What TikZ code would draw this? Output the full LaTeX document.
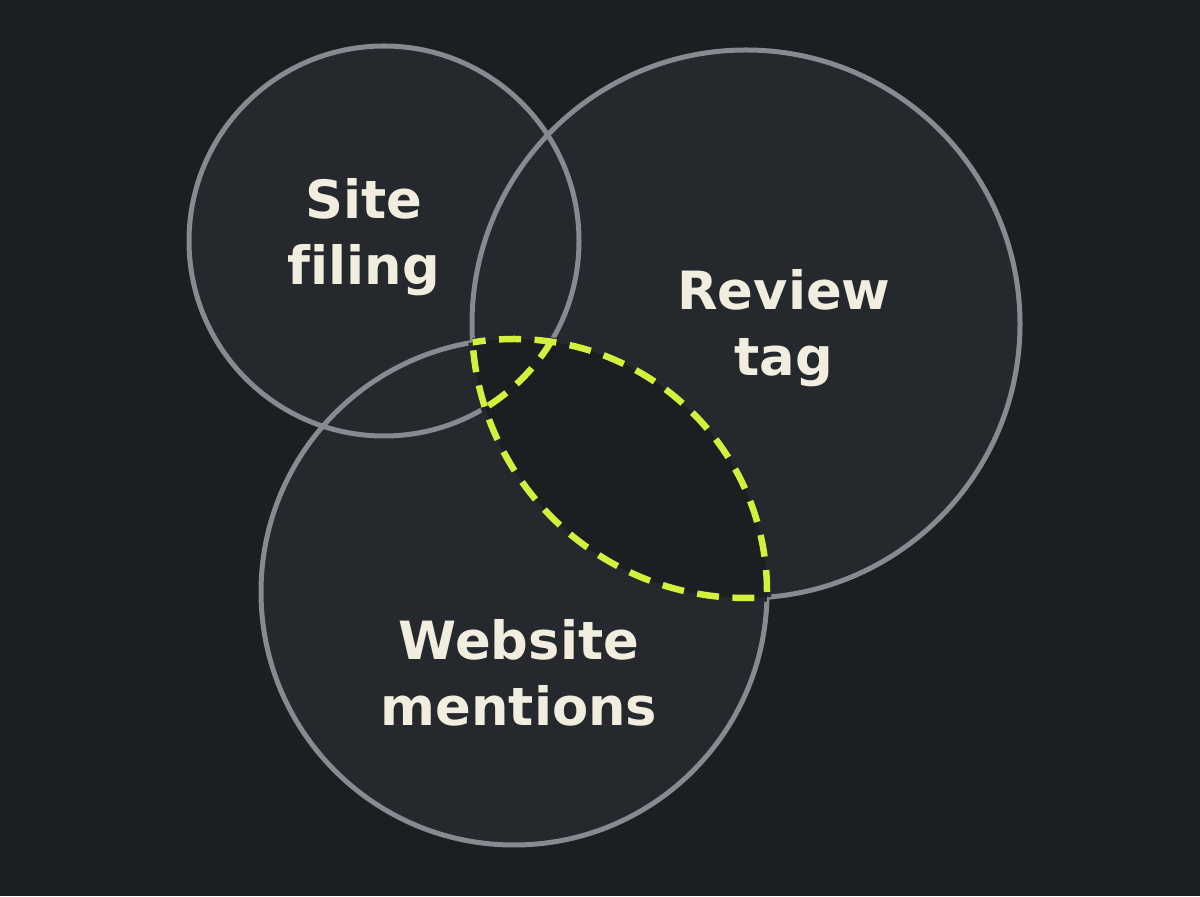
\documentclass[tikz,border=0pt]{standalone}
\usepackage{fontspec}
\setsansfont[Ligatures=NoCommon]{DejaVu Sans}
\definecolor{VBack}{HTML}{1C1F21}
\definecolor{VFill}{HTML}{25292E}
\definecolor{VRing}{HTML}{878B91}
\definecolor{VLime}{HTML}{D3F03C}
\definecolor{VText}{HTML}{F1EEDF}

\begin{document}
\begin{tikzpicture}[
  x=0.02cm,y=0.02cm,
  disc/.style={fill=VFill},
  ring/.style={draw=VRing,line width=0.1cm},
  erase/.style={draw=VFill,line width=0.17cm},
  overlap/.style={draw=VLime,line width=0.13cm,dash pattern=on 0.44cm off 0.27cm},
  setname/.style={text=VText,align=center,
    font=\sffamily\bfseries\fontsize{30}{37.5}\selectfont}
]
  \fill[VBack] (0,0) rectangle (1200,896);
  \useasboundingbox (0,0) rectangle (1200,896);
  \coordinate (site) at (384,655);
  \coordinate (review) at (746,572);
  \coordinate (web) at (514,304);
  \foreach \ctr/\rad in {site/195,review/274,web/253}
    {\fill[disc] (\ctr) circle[radius=\rad];}
  \foreach \ctr/\rad in {site/195,review/274,web/253}
    {\draw[ring] (\ctr) circle[radius=\rad];}
  % review + web overlap
  \begin{scope}
    \clip (web) circle[radius=253];
    \draw[erase] (review) circle[radius=274];
  \end{scope}
  \begin{scope}
    \clip (review) circle[radius=274];
    \draw[erase] (web) circle[radius=253];
    \fill[VBack] (web) circle[radius=253];
  \end{scope}
  \begin{scope}
    \clip (web) circle[radius=253];
    \draw[overlap] (review) circle[radius=274];
  \end{scope}
  \begin{scope}
    \clip (review) circle[radius=274];
    \draw[overlap] (web) circle[radius=253];
    \clip (web) circle[radius=253];
    \draw[overlap] (site) circle[radius=195];
  \end{scope}
  \node[setname] (sitetxt) at (364,659) {Site\\filing};
  \node[setname] (reviewtxt) at (784,568) {Review\\tag};
  \node[setname] (webtxt) at (519,223) {Website\\mentions};
\end{tikzpicture}
\end{document}
